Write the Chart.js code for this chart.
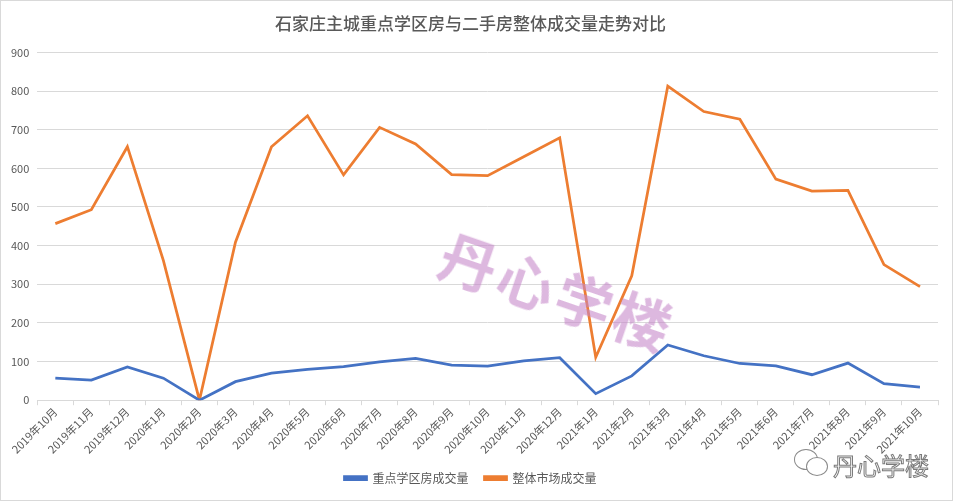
<!DOCTYPE html>
<html>
<head>
<meta charset="utf-8">
<script src="https://cdn.jsdelivr.net/npm/chart.js@4"></script>
<style>
html,body{margin:0;padding:0;background:#fff;}
#wrap{position:relative;width:953px;height:501px;box-sizing:border-box;border:1px solid #d9d9d9;overflow:hidden;}
canvas{position:absolute;left:0;top:0;}
.wm{position:absolute;pointer-events:none;font-family:"Noto Sans CJK SC",sans-serif;white-space:nowrap;}
#wm1{left:442px;top:208px;font-size:57px;font-weight:700;color:rgba(196,132,200,0.58);transform:rotate(19deg);transform-origin:0 50%;letter-spacing:4px;}
#wm2{left:832px;top:446px;font-size:24px;font-weight:400;color:#fff;-webkit-text-stroke:1px #7a7a7a;}
#ic1{position:absolute;left:793px;top:448px;width:22px;height:19px;border:1px solid #8a8a8a;border-radius:50%;background:#fff;}
#ic2{position:absolute;left:805px;top:456px;width:20px;height:17px;border:1px solid #8a8a8a;border-radius:50%;background:#fff;}
</style>
</head>
<body>
<div id="wrap">
<canvas id="c" width="951" height="499"></canvas>
<div class="wm" id="wm1">丹心学楼</div>
<div id="ic1"></div><div id="ic2"></div>
<div class="wm" id="wm2">丹心学楼</div>
</div>
<script>
const categories = ["2019年10月","2019年11月","2019年12月","2020年1月","2020年2月","2020年3月","2020年4月","2020年5月","2020年6月","2020年7月","2020年8月","2020年9月","2020年10月","2020年11月","2020年12月","2021年1月","2021年2月","2021年3月","2021年4月","2021年5月","2021年6月","2021年7月","2021年8月","2021年9月","2021年10月"];
const keySchoolVolume = [57,52,86,57,0,48,70,80,87,99,108,91,88,102,110,17,63,143,115,95,89,66,96,43,34];
const marketVolume = [457,493,656,361,0,409,656,736,583,706,663,584,581,630,679,111,322,813,747,727,572,541,543,351,294];
const seriesNames = ["重点学区房成交量","整体市场成交量"];
const titleText = "石家庄主城重点学区房与二手房整体成交量走势对比";
const yTicks = [0,100,200,300,400,500,600,700,800,900];

const FONT = '"Noto Sans CJK SC", "Noto Sans", sans-serif';
new Chart(document.getElementById('c'), {
  type: 'line',
  data: {
    labels: categories,
    datasets: [
      {label: seriesNames[0], data: keySchoolVolume, borderColor: '#4472C4', backgroundColor: '#4472C4', borderWidth: 2.75, pointRadius: 0, tension: 0},
      {label: seriesNames[1], data: marketVolume, borderColor: '#ED7D31', backgroundColor: '#ED7D31', borderWidth: 2.75, pointRadius: 0, tension: 0}
    ]
  },
  options: {
    responsive: false,
    animation: false,
    layout: {padding: {left: 2, right: 14, top: 0, bottom: 6}},
    plugins: {
      title: {display: true, text: titleText, color: '#595959', font: {family: FONT, size: 17, weight: 500}, padding: {top: 12, bottom: 19}},
      legend: {position: 'bottom', labels: {color: '#595959', font: {family: FONT, size: 12}, boxWidth: 22, boxHeight: 3, padding: 16}},
      tooltip: {enabled: false}
    },
    scales: {
      x: {
        offset: true,
        grid: {display: true, drawOnChartArea: false, drawTicks: true, tickLength: 5, color: '#d9d9d9', offset: true},
        border: {display: true, color: '#d9d9d9'},
        ticks: {color: '#595959', font: {family: FONT, size: 11}, minRotation: 45, maxRotation: 45, autoSkip: false, padding: 0}
      },
      y: {
        min: 0, max: 900,
        afterBuildTicks: (s) => { s.ticks = yTicks.map(v => ({value: v})); },
        grid: {color: '#d9d9d9', drawTicks: false},
        border: {display: false},
        ticks: {color: '#595959', font: {family: FONT, size: 11}, padding: 8}
      }
    }
  }
});
</script>
</body>
</html>
